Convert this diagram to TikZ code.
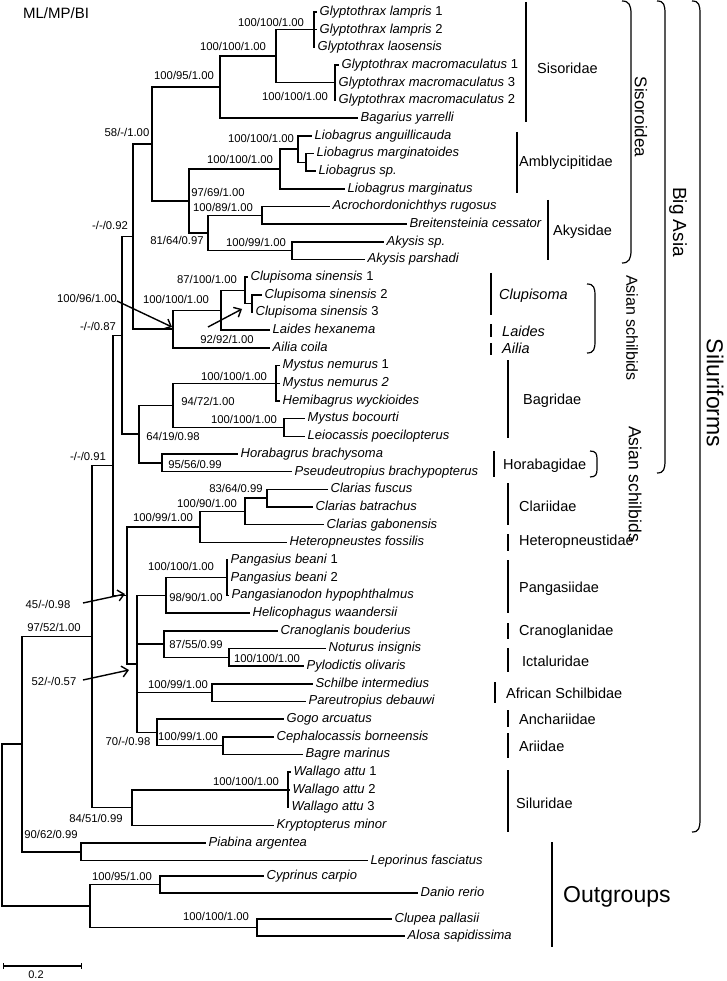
\documentclass[tikz,border=0pt]{standalone}
\usepackage{fontspec}
\setmainfont{Liberation Sans}
\usetikzlibrary{arrows.meta}
\newcommand{\leaffont}{\fontsize{13}{15}\selectfont\itshape}
\newcommand{\supfont}{\fontsize{11.3}{13}\selectfont}
\newcommand{\famfont}{\fontsize{14.5}{17}\selectfont}
\begin{document}
\begin{tikzpicture}[x=1pt,y=-1pt,
 br/.style={line width=1.45pt},
 leaf/.style={anchor=west,inner xsep=2.5pt,inner ysep=0pt,text height=9.5pt,text depth=2.8pt,font=\leaffont},
 sup/.style={inner sep=0pt,font=\supfont},
 fam/.style={anchor=west,inner sep=0pt,font=\famfont},
 bar/.style={line width=1.4pt},
 brak/.style={line width=1.2pt},
 arr/.style={line width=1.4pt,-{Straight Barb[length=6pt,width=11pt]}},
 vlab/.style={rotate=-90,inner sep=0pt}]
\fill[white] (0,0) rectangle (726,981);
\useasboundingbox (0,0) rectangle (726,981);

% internal nodes
\coordinate (R) at (2,825.1);
\coordinate (A) at (22,744.2);
\coordinate (PL) at (81,851.85);
\coordinate (OG) at (90,906);
\coordinate (CD) at (160,884.5);
\coordinate (CA) at (257,927.5);
\coordinate (Sil) at (92,636.5);
\coordinate (SLR) at (132,807.6);
\coordinate (WAL) at (288,789.9);
\coordinate (N091) at (113,465.4);
\coordinate (BA) at (122,335.35);
\coordinate (N092) at (133,236.6);
\coordinate (N58) at (152,144.05);
\coordinate (N10095) at (220,87.15);
\coordinate (GLY) at (276,56.2);
\coordinate (LAM) at (314,29.7);
\coordinate (MAC) at (335,82.7);
\coordinate (N9769) at (189,200.95);
\coordinate (AMB) at (280,168.9);
\coordinate (LIO) at (298,149);
\coordinate (LIO2) at (306,162.25);
\coordinate (AKY) at (208,233);
\coordinate (AK1) at (262,215.35);
\coordinate (AK2) at (292,250.65);
\coordinate (AS) at (173,329.1);
\coordinate (N9292) at (221,310.35);
\coordinate (N87) at (245,290.5);
\coordinate (CL23) at (252,303.75);
\coordinate (BAG) at (139,434.1);
\coordinate (N9472) at (173,405.4);
\coordinate (MN) at (276,383.3);
\coordinate (MB) at (284,427.45);
\coordinate (HOR) at (162,462.85);
\coordinate (N045) at (127,595.4);
\coordinate (CLH) at (200,526.9);
\coordinate (N10090) at (245,511.45);
\coordinate (N8364) at (267,498.2);
\coordinate (N052) at (137,663.95);
\coordinate (PAN) at (166,595.4);
\coordinate (PB) at (227,577.75);
\coordinate (CRA) at (164,644.1);
\coordinate (ICT) at (229,657.35);
\coordinate (SCH) at (212,692.65);
\coordinate (ANC) at (157,732.5);
\coordinate (ARI) at (223,745.75);

% leaves
\node[leaf] (l1) at (317,12) {Glyptothrax lampris \textup{1}};
\node[leaf] (l2) at (317,29.7) {Glyptothrax lampris \textup{2}};
\node[leaf] (l3) at (315,47.4) {Glyptothrax laosensis};
\node[leaf] (l4) at (339,65) {Glyptothrax macromaculatus \textup{1}};
\node[leaf] (l5) at (336,82.7) {Glyptothrax macromaculatus \textup{3}};
\node[leaf] (l6) at (336,100.4) {Glyptothrax macromaculatus \textup{2}};
\node[leaf] (l7) at (358,118.1) {Bagarius yarrelli};
\node[leaf] (l8) at (312,135.8) {Liobagrus anguillicauda};
\node[leaf] (l9) at (314,153.4) {Liobagrus marginatoides};
\node[leaf] (l10) at (316,171.1) {Liobagrus sp.};
\node[leaf] (l11) at (345,188.8) {Liobagrus marginatus};
\node[leaf] (l12) at (330,206.5) {Acrochordonichthys rugosus};
\node[leaf] (l13) at (407,224.2) {Breitensteinia cessator};
\node[leaf] (l14) at (384,241.8) {Akysis sp.};
\node[leaf] (l15) at (365,259.5) {Akysis parshadi};
\node[leaf] (l16) at (248,277.2) {Clupisoma sinensis \textup{1}};
\node[leaf] (l17) at (262,294.9) {Clupisoma sinensis \textup{2}};
\node[leaf] (l18) at (253,312.6) {Clupisoma sinensis \textup{3}};
\node[leaf] (l19) at (270,330.2) {Laides hexanema};
\node[leaf] (l20) at (270,347.9) {Ailia coila};
\node[leaf] (l21) at (280,365.6) {Mystus nemurus \textup{1}};
\node[leaf] (l22) at (280,383.3) {Mystus nemurus 2};
\node[leaf] (l23) at (280,401) {Hemibagrus wyckioides};
\node[leaf] (l24) at (305,418.6) {Mystus bocourti};
\node[leaf] (l25) at (305,436.3) {Leiocassis poecilopterus};
\node[leaf] (l26) at (238,454) {Horabagrus brachysoma};
\node[leaf] (l27) at (292,471.7) {Pseudeutropius brachypopterus};
\node[leaf] (l28) at (328,489.4) {Clarias fuscus};
\node[leaf] (l29) at (313,507) {Clarias batrachus};
\node[leaf] (l30) at (324,524.7) {Clarias gabonensis};
\node[leaf] (l31) at (287,542.4) {Heteropneustes fossilis};
\node[leaf] (l32) at (228,560.1) {Pangasius beani \textup{1}};
\node[leaf] (l33) at (228,577.8) {Pangasius beani \textup{2}};
\node[leaf] (l34) at (229,595.4) {Pangasianodon hypophthalmus};
\node[leaf] (l35) at (250,613.1) {Helicophagus waandersii};
\node[leaf] (l36) at (278,630.8) {Cranoglanis bouderius};
\node[leaf] (l37) at (326,648.5) {Noturus insignis};
\node[leaf] (l38) at (304,666.2) {Pylodictis olivaris};
\node[leaf] (l39) at (313,683.8) {Schilbe intermedius};
\node[leaf] (l40) at (306,701.5) {Pareutropius debauwi};
\node[leaf] (l41) at (284,719.2) {Gogo arcuatus};
\node[leaf] (l42) at (274,736.9) {Cephalocassis borneensis};
\node[leaf] (l43) at (303,754.6) {Bagre marinus};
\node[leaf] (l44) at (291,772.2) {Wallago attu \textup{1}};
\node[leaf] (l45) at (290,789.9) {Wallago attu \textup{2}};
\node[leaf] (l46) at (289,807.6) {Wallago attu \textup{3}};
\node[leaf] (l47) at (274,825.3) {Kryptopterus minor};
\node[leaf] (l48) at (206,843) {Piabina argentea};
\node[leaf] (l49) at (368,860.7) {Leporinus fasciatus};
\node[leaf] (lcy) at (264,876) {Cyprinus carpio};
\node[leaf] (lda) at (418,893) {Danio rerio};
\node[leaf] (lcl) at (392,919) {Clupea pallasii};
\node[leaf] (lal) at (405,936) {Alosa sapidissima};

% branches
\foreach \p/\c in {R/A,R/OG,A/Sil,A/PL,PL/l48,PL/l49,OG/CD,OG/CA,CD/lcy,CD/lda,CA/lcl,CA/lal,
 Sil/N091,Sil/SLR,SLR/WAL,SLR/l47,WAL/l44,WAL/l45,WAL/l46,N091/BA,N091/N045,BA/N092,BA/BAG,
 N092/N58,N092/AS,N58/N10095,N58/N9769,N10095/GLY,N10095/l7,GLY/LAM,GLY/MAC,LAM/l1,LAM/l2,LAM/l3,
 MAC/l4,MAC/l5,MAC/l6,N9769/AMB,N9769/AKY,AMB/LIO,AMB/l11,LIO/l8,LIO/LIO2,LIO2/l9,LIO2/l10,
 AKY/AK1,AKY/AK2,AK1/l12,AK1/l13,AK2/l14,AK2/l15,AS/N9292,AS/l20,N9292/N87,N9292/l19,N87/l16,
 N87/CL23,CL23/l17,CL23/l18,BAG/N9472,BAG/HOR,N9472/MN,N9472/MB,MN/l21,MN/l22,MN/l23,MB/l24,
 MB/l25,HOR/l26,HOR/l27,N045/CLH,N045/N052,CLH/N10090,CLH/l31,N10090/N8364,N10090/l30,
 N8364/l28,N8364/l29,N052/PAN,N052/CRA,N052/SCH,N052/ANC,PAN/PB,PAN/l35,PB/l32,PB/l33,PB/l34,
 CRA/l36,CRA/ICT,ICT/l37,ICT/l38,SCH/l39,SCH/l40,ANC/l41,ANC/ARI,ARI/l42,ARI/l43}
 \draw[br] (\p) |- (\c);

% support values
\node[font=\fontsize{15}{17}\selectfont,inner sep=0pt] (hdr) at (56,13) {ML/MP/BI};
\node[sup] (s1) at (271,22) {100/100/1.00};
\node[sup] (s2) at (233,46) {100/100/1.00};
\node[sup] (s3) at (184,75) {100/95/1.00};
\node[sup] (s4) at (295,96) {100/100/1.00};
\node[sup] (s5) at (127,132) {58/-/1.00};
\node[sup] (s6) at (261,138) {100/100/1.00};
\node[sup] (s7) at (240,159) {100/100/1.00};
\node[sup] (s8) at (218,192) {97/69/1.00};
\node[sup] (s9) at (223,207) {100/89/1.00};
\node[sup] (s10) at (110,225) {-/-/0.92};
\node[sup] (s11) at (177,240) {81/64/0.97};
\node[sup] (s12) at (256,242) {100/99/1.00};
\node[sup] (s13) at (207,279) {87/100/1.00};
\node[sup] (s14) at (87,298) {100/96/1.00};
\node[sup] (s15) at (176,299) {100/100/1.00};
\node[sup] (s16) at (98,326) {-/-/0.87};
\node[sup] (s17) at (227,339) {92/92/1.00};
\node[sup] (s18) at (234,376) {100/100/1.00};
\node[sup] (s19) at (208,401) {94/72/1.00};
\node[sup] (s20) at (244,419) {100/100/1.00};
\node[sup] (s21) at (173,436) {64/19/0.98};
\node[sup] (s22) at (88,456) {-/-/0.91};
\node[sup] (s23) at (195,464) {95/56/0.99};
\node[sup] (s24) at (236,488) {83/64/0.99};
\node[sup] (s25) at (207,503) {100/90/1.00};
\node[sup] (s26) at (163,517) {100/99/1.00};
\node[sup] (s27) at (181,566) {100/100/1.00};
\node[sup] (s28) at (196,597) {98/90/1.00};
\node[sup] (s29) at (48,604) {45/-/0.98};
\node[sup] (s30) at (54,627) {97/52/1.00};
\node[sup] (s31) at (196,644) {87/55/0.99};
\node[sup] (s32) at (267,658) {100/100/1.00};
\node[sup] (s33) at (54,681) {52/-/0.57};
\node[sup] (s34) at (178,684) {100/99/1.00};
\node[sup] (s35) at (188,736) {100/99/1.00};
\node[sup] (s36) at (128,741) {70/-/0.98};
\node[sup] (s37) at (246,781) {100/100/1.00};
\node[sup] (s38) at (96,818) {84/51/0.99};
\node[sup] (s39) at (51,834) {90/62/0.99};
\node[sup] (s40) at (122,876) {100/95/1.00};
\node[sup] (s41) at (216,916) {100/100/1.00};

% arrows
\coordinate (a1s) at (117,301); \coordinate (a1e) at (172,327);
\coordinate (a2s) at (208,327); \coordinate (a2e) at (242,309);
\coordinate (a3s) at (83,603);  \coordinate (a3e) at (125,594);
\coordinate (a4s) at (83,680);  \coordinate (a4e) at (129,670);
\draw[arr] (a1s) -- (a1e);
\draw[arr] (a2s) -- (a2e);
\draw[arr] (a3s) -- (a3e);
\draw[arr] (a4s) -- (a4e);

% scale bar
\coordinate (sb1) at (3,966); \coordinate (sb2) at (82,966);
\draw[line width=1.2pt,{Bar[width=6pt]}-{Bar[width=6pt]}] (sb1) -- (sb2);
\node[font=\fontsize{11}{13}\selectfont,inner sep=0pt] (sbl) at (36,975) {0.2};

% family bars and labels
\draw[bar] (526,2) -- (526,122);
\node[fam] (f1) at (537,68) {Sisoridae};
\draw[bar] (517,132) -- (517,193);
\node[fam] (f2) at (519,163) {Amblycipitidae};
\draw[bar] (548,200) -- (548,260);
\node[fam] (f3) at (553,232) {Akysidae};
\draw[bar] (491,273) -- (491,315);
\node[fam,font=\famfont\itshape] (f4) at (499,296) {Clupisoma};
\draw[bar] (491,324) -- (491,337);
\node[fam,font=\famfont\itshape] (f5) at (502,331) {Laides};
\draw[bar] (491,343) -- (491,355);
\node[fam,font=\famfont\itshape] (f6) at (502,348) {Ailia};
\draw[bar] (508,360) -- (508,438);
\node[fam] (f7) at (523,401) {Bagridae};
\draw[bar] (494,451) -- (494,477);
\node[fam] (f8) at (503,466) {Horabagidae};
\draw[bar] (508,483) -- (508,525);
\node[fam] (f9) at (519,506) {Clariidae};
\draw[bar] (508,534) -- (508,551);
\node[fam] (f10) at (519,542) {Heteropneustidae};
\draw[bar] (508,560) -- (508,613);
\node[fam] (f11) at (519,589) {Pangasiidae};
\draw[bar] (508,623) -- (508,639);
\node[fam] (f12) at (519,632) {Cranoglanidae};
\draw[bar] (508,648) -- (508,672);
\node[fam] (f13) at (522,661) {Ictaluridae};
\draw[bar] (495,682) -- (495,703);
\node[fam] (f14) at (506,693) {African Schilbidae};
\draw[bar] (508,710) -- (508,727);
\node[fam] (f15) at (519,719) {Anchariidae};
\draw[bar] (508,733) -- (508,758);
\node[fam] (f16) at (519,746) {Ariidae};
\draw[bar] (508,770) -- (508,832);
\node[fam] (f17) at (516,803) {Siluridae};
\draw[bar] (552,842) -- (552,947);
\node[fam,font=\fontsize{23}{26}\selectfont] (f18) at (563,897) {Outgroups};

% brackets
\draw[brak] (622,1) .. controls (629,1) and (631,5) .. (631,14) -- (631,250) .. controls (631,259) and (629,263) .. (622,263);
\draw[brak] (657,1) .. controls (664,1) and (665,5) .. (665,14) -- (665,460) .. controls (665,469) and (664,473) .. (657,473);
\draw[brak] (692,1) .. controls (699,1) and (700,5) .. (700,14) -- (700,819) .. controls (700,828) and (699,832) .. (692,832);
\draw[brak] (587,284) .. controls (594,284) and (595,288) .. (595,296) -- (595,341) .. controls (595,349) and (594,353) .. (587,353);
\draw[brak] (590,451) .. controls (596,451) and (597,454) .. (597,459) -- (597,469) .. controls (597,474) and (596,477) .. (590,477);

% group labels
\node[vlab,font=\fontsize{17}{19}\selectfont] (g1) at (641,117) {Sisoroidea};
\node[vlab,font=\fontsize{19}{21}\selectfont] (g2) at (678,222) {Big Asia};
\node[vlab,font=\fontsize{16}{18}\selectfont] (g3) at (632,328) {Asian schilbids};
\node[vlab,font=\fontsize{17.5}{19}\selectfont] (g4) at (635,484) {Asian schilbids};
\node[vlab,font=\fontsize{23}{26}\selectfont] (g5) at (715,393) {Siluriforms};
\end{tikzpicture}
\end{document}
